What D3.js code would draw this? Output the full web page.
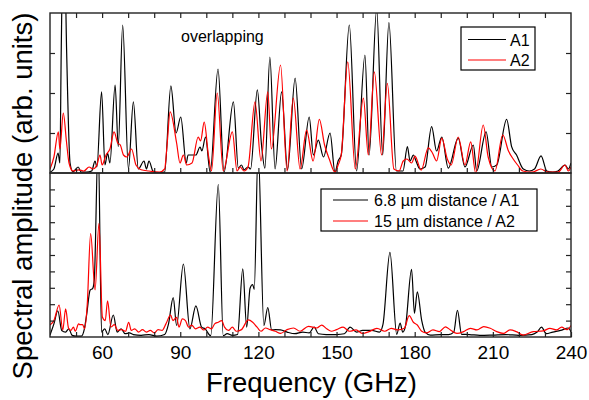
<!DOCTYPE html>
<html>
<head>
<meta charset="utf-8">
<script src="https://cdn.jsdelivr.net/npm/d3@7"></script>
<style>
  body { margin: 0; background: #fff; }
  text { font-family: "Liberation Sans", Arial, sans-serif; }
</style>
</head>
<body>
<div id="chart"></div>
<script>
// frequency axis labels (GHz)
var freqLabels = [60, 90, 120, 150, 180, 210, 240];

// top panel "overlapping": [frequency GHz, amplitude]
var topA1 = [[40,0.02],[41.5,0.1],[43.1,0.5],[43.8,0.25],[44.3,3],[45.3,6.5],[46.4,3],[47.7,0.25],[48.8,0.03],[50.8,0.15],[52,0.02],[54,0.02],[56,0.05],[57.3,0.3],[58,0.15],[59.8,2.03],[61.1,0.2],[62.1,0.5],[63,0.25],[65,2.2],[66.2,0.66],[67.9,3.7],[70.1,0.1],[72,1.78],[73.9,0.1],[76.1,0.3],[77,0.1],[78,0.3],[79.5,0.05],[81,0.0],[84,0.02],[86.4,2.18],[88.4,1.0],[90.2,1.4],[92.3,0.25],[93,0.45],[96,0.45],[97.6,0.65],[98.3,0.55],[99.7,0.9],[101.5,0.02],[104.5,2.6],[106.8,0.02],[110.4,1.78],[112.3,0.12],[113.5,0.2],[114.5,0.08],[116,0.15],[117,0.1],[119.6,2.08],[121.2,0.7],[122.5,0.12],[124.4,2.9],[126.4,0.1],[128.9,2.03],[131.2,0.08],[134.1,2.37],[136.6,0.1],[139.5,1.4],[141.1,0.45],[143,0.82],[145,0.4],[147.5,1.0],[149.4,0.02],[150.6,0.3],[151.8,0.45],[154.9,3.7],[157.7,0.05],[160.9,2.95],[162.5,0.45],[165.4,4.1],[167.7,0.45],[170.1,3.76],[173,0.05],[175.5,0.05],[177.2,0.66],[178.2,0.3],[179.5,0.45],[180.5,0.3],[182,0.1],[184,0.15],[186.5,1.16],[188.4,0.55],[190.4,0.9],[192.9,0.12],[196.7,0.87],[199.3,0.15],[202.5,0.7],[203.8,0.05],[207.4,1.03],[209.6,0.15],[211.5,0.2],[215.3,1.34],[217.2,0.66],[219.1,0.45],[221.7,0.1],[224,0.05],[226,0.1],[228.5,0.43],[230.7,0.05],[233,0.02],[235,0.05],[237.7,0.2],[239,0.1],[240,0.25]];

var topA2 = [[40,0.1],[41.5,0.4],[43.2,1.03],[43.8,0.6],[45.1,1.5],[46.3,0.8],[47.3,0.25],[48.8,0.05],[51,0.08],[53,0.05],[55,0.15],[56.5,0.1],[58,0.2],[59.2,0.45],[60,0.2],[61.5,0.45],[63,0.6],[64.6,1.03],[66,0.75],[67,0.7],[68.2,0.45],[69.5,0.4],[71.3,0.6],[73,0.2],[75,0.08],[78,0.05],[82,0.02],[84,0.1],[85,0.75],[86.1,1.53],[88.6,0.75],[89.9,0.25],[91.2,0.45],[92.5,0.2],[94.5,0.25],[96.9,0.9],[97.8,0.8],[99.2,1.27],[100.8,0.45],[102,0.05],[104.2,2.0],[106.5,0.05],[110,1.03],[111.8,0.05],[113,0.15],[114.5,0.05],[116,0.15],[118.7,1.78],[121,0.3],[123.6,2.03],[125,0.6],[128.5,2.7],[131,0.05],[133.4,1.87],[136,0.1],[138.5,1.07],[141,0.3],[143.4,1.34],[145.4,0.7],[147.2,0.35],[149.4,0.02],[150.6,0.2],[151.8,0.45],[154.3,2.78],[157.2,0.1],[160.3,1.87],[162.2,0.45],[164.5,2.53],[167.3,0.45],[169.5,2.24],[172,0.1],[174,0.05],[175.6,0.3],[177,0.35],[178.8,0.25],[180.1,0.42],[182.5,0.07],[185.2,0.63],[186.8,0.5],[188.4,0.3],[190.4,0.87],[192.5,0.35],[194,0.2],[196.7,0.9],[199.3,0.2],[201.5,0.78],[203.4,0.0],[206.3,1.2],[208.2,0.4],[210.8,0.05],[213.8,0.95],[216,0.55],[217.8,0.35],[219.5,0.2],[221.5,0.05],[225,0.02],[228.4,0.1],[231,0.02],[235,0.02],[237.7,0.2],[239,0.05],[240,0.15]];

// bottom panel: 6.8 um distance / A1 and 15 um distance / A2
var botA1 = [[40,0.12],[41.5,0.8],[43,1.6],[44.5,0.4],[46,0.3],[47.2,0.5],[48.5,0.1],[50,0.05],[52,0.05],[53.2,0.5],[54.1,1.4],[55.4,2.86],[56.4,2.97],[57.0,3.5],[58.5,12],[59.8,0.3],[61,0.5],[62.2,0.15],[64.3,1.34],[65.8,0.3],[67.3,0.5],[68.8,0.2],[70.5,0.25],[72,0.15],[75,0.1],[78,0.15],[81,0.05],[84,0.15],[85.5,0.8],[87.3,2.4],[88.6,0.7],[91.2,4.45],[93.7,0.5],[96,1.9],[98.2,0.6],[99.5,0.5],[101.7,0.08],[104.6,9.3],[106.5,0.08],[108,0.2],[110,0.1],[112,0.15],[114,4.15],[115.5,0.6],[116.8,2.97],[117.8,3.2],[118.4,2.9],[119.9,11.5],[122.1,0.7],[123.6,1.8],[125.1,0.43],[126.5,0.45],[128.5,0.43],[131,0.3],[134,0.2],[137,0.3],[139.5,0.25],[141.4,0.61],[143,0.2],[146,0.15],[150,0.15],[153,0.2],[155.2,0.6],[157.7,0.3],[160,0.4],[163.5,0.4],[166.5,0.3],[167.8,0.75],[170.5,5.16],[173.1,0.16],[174.4,0.85],[175.4,0.3],[176.5,0.7],[178.8,4.13],[179.9,1.44],[181,2.76],[182.7,1.0],[184,0.3],[186,0.12],[190,0.15],[193,0.15],[195,0.3],[196.4,1.63],[198,0.16],[201,0.15],[205,0.1],[210,0.12],[215,0.15],[220,0.1],[225,0.15],[227,0.3],[228.7,0.6],[230.5,0.2],[233,0.3],[236,0.4],[239,0.55],[240,0.3]];

var botA2 = [[40,0.73],[41.5,1.0],[43.5,1.95],[44.9,0.43],[46,1.71],[47.1,0.55],[48,0.4],[49,0.6],[49.7,0.35],[51,0.8],[51.5,0.75],[52.5,0.75],[53.3,0.5],[54.3,2.0],[55.6,6.3],[57.3,2.87],[58.8,6.93],[60.1,1.22],[61.2,1.0],[62.1,2.2],[63.4,0.61],[64.7,0.75],[66,0.4],[67.5,0.45],[69,0.35],[70.2,0.9],[71.2,0.4],[72.5,0.5],[74,0.3],[75.5,0.45],[77,0.3],[78.5,0.4],[80,0.25],[81.5,0.45],[83,0.4],[84.5,0.8],[86.3,1.34],[87.2,1.0],[88.6,1.2],[89.5,0.6],[90.8,1.1],[92,1.0],[93.2,0.6],[94.4,0.73],[95.8,0.5],[97.5,0.6],[99,0.43],[100.5,0.6],[102,0.5],[103.2,0.8],[104.6,0.9],[105.9,1.0],[107,0.6],[108.5,0.4],[110,0.6],[111.5,0.35],[113.5,0.45],[116.1,1.04],[117.8,0.9],[119.5,0.6],[121,0.35],[122.7,0.55],[124.5,0.45],[126.5,0.35],[128.5,0.22],[131,0.45],[133.5,0.55],[136,0.35],[139.2,0.65],[142.4,0.55],[144.3,0.73],[146.2,0.5],[148,0.35],[150,0.45],[152.5,0.6],[155,0.35],[157.5,0.43],[160,0.22],[162.5,0.33],[165.5,0.53],[168.5,0.35],[171,0.53],[173.5,0.43],[176,0.53],[177.9,1.3],[179.5,0.9],[181,0.73],[182.7,0.35],[184.5,0.25],[187,0.43],[189.5,0.33],[191.8,0.62],[193.7,0.43],[196.2,0.22],[198.8,0.33],[201.4,0.53],[203.9,0.43],[206.5,0.63],[209,0.53],[211.5,0.33],[214,0.22],[216.6,0.43],[219,0.33],[221.7,0.12],[225.5,0.33],[229.3,0.37],[231.9,0.53],[234.5,0.43],[236.4,0.6],[238.5,0.45],[240,0.7]];

var W = 589, H = 400;
var left = 50, right = 571;
var topP = {y0: 13, y1: 173, max: 4};
var botP = {y0: 173, y1: 337, max: 10};

var svg = d3.select("#chart").append("svg")
    .attr("width", W).attr("height", H);

var x = d3.scaleLinear().domain([40, 240]).range([left, right]);
var yTop = d3.scaleLinear().domain([0, topP.max]).range([topP.y1, topP.y0]);
var yBot = d3.scaleLinear().domain([0, botP.max]).range([botP.y1, botP.y0]);

function drawPanel(id, p, y, series) {
  svg.append("clipPath").attr("id", id)
    .append("rect")
      .attr("x", left).attr("y", p.y0)
      .attr("width", right - left).attr("height", p.y1 - p.y0);

  var line = d3.line()
      .x(function(d){ return x(d[0]); })
      .y(function(d){ return y(d[1]); })
      .curve(d3.curveMonotoneX);

  var g = svg.append("g").attr("clip-path", "url(#" + id + ")");
  series.forEach(function(s){
    g.append("path")
      .attr("d", line(s.data))
      .attr("fill", "none")
      .attr("stroke", s.color)
      .attr("stroke-width", 1.2)
      .attr("stroke-linejoin", "round");
  });

  // inward ticks on all four sides
  var yt = d3.range(1, p.max);
  svg.append("g").attr("transform", "translate(" + left + ",0)")
    .call(d3.axisLeft(y).tickValues(yt).tickSize(-5).tickFormat(""));
  svg.append("g").attr("transform", "translate(" + right + ",0)")
    .call(d3.axisRight(y).tickValues(yt).tickSize(-5).tickFormat(""));

  svg.selectAll(".domain").remove();

  svg.append("rect")
    .attr("x", left).attr("y", p.y0)
    .attr("width", right - left).attr("height", p.y1 - p.y0)
    .attr("fill", "none").attr("stroke", "#222").attr("stroke-width", 1.4);
}

drawPanel("clipTop", topP, yTop, [
  {data: topA1, color: "#000"},
  {data: topA2, color: "#ff0000"}
]);
drawPanel("clipBot", botP, yBot, [
  {data: botA1, color: "#000"},
  {data: botA2, color: "#ff0000"}
]);

var xt = d3.range(50, 240, 10);
svg.append("g").attr("transform", "translate(0," + topP.y0 + ")")
  .call(d3.axisTop(x).tickValues(xt).tickSize(-5).tickFormat(""));
svg.append("g").attr("transform", "translate(0," + topP.y1 + ")")
  .call(d3.axisBottom(x).tickValues(xt).tickSize(-5).tickFormat(""));

var xAxis = svg.append("g").attr("class", "x-axis")
    .attr("transform", "translate(0," + botP.y1 + ")")
    .call(d3.axisBottom(x).tickValues(d3.range(50, 241, 10)).tickSize(-5).tickPadding(9)
      .tickFormat(function(d){ return freqLabels.indexOf(d) >= 0 ? d : ""; }));
xAxis.selectAll("text").attr("font-size", 19).attr("fill", "#000")
    .attr("font-family", "'Liberation Sans', Arial, sans-serif");

svg.selectAll(".domain").remove();
svg.selectAll(".tick line").attr("stroke", "#222").attr("stroke-width", 1.2);

// axis titles
svg.append("text")
    .attr("x", (left + right) / 2 + 1).attr("y", 392)
    .attr("text-anchor", "middle").attr("font-size", 27.5)
    .text("Frequency (GHz)");

svg.append("text")
    .attr("transform", "translate(32,196) rotate(-90)")
    .attr("text-anchor", "middle").attr("font-size", 27.5)
    .text("Spectral amplitude (arb. units)");

svg.append("text")
    .attr("x", 181).attr("y", 42).attr("font-size", 16)
    .text("overlapping");

// legends
function legend(x0, y0, w, h, items, lx0, lx1, tx) {
  var lg = svg.append("g");
  lg.append("rect")
    .attr("x", x0).attr("y", y0).attr("width", w).attr("height", h)
    .attr("fill", "#fff").attr("stroke", "#000").attr("stroke-width", 1.2);
  items.forEach(function(it){
    lg.append("line")
      .attr("x1", lx0).attr("x2", lx1).attr("y1", it.y).attr("y2", it.y)
      .attr("stroke", it.color).attr("stroke-width", 1.2);
    lg.append("text")
      .attr("x", tx).attr("y", it.y + 6).attr("font-size", 16)
      .text(it.label);
  });
}

legend(461, 27, 74, 43, [
  {label: "A1", color: "#000", y: 39.5},
  {label: "A2", color: "#ff0000", y: 60}
], 468, 506, 510);

legend(321, 189, 216, 42, [
  {label: "6.8 \u00b5m distance / A1", color: "#000", y: 200},
  {label: "15 \u00b5m distance / A2", color: "#ff0000", y: 221}
], 333, 368, 374);
</script>
</body>
</html>
